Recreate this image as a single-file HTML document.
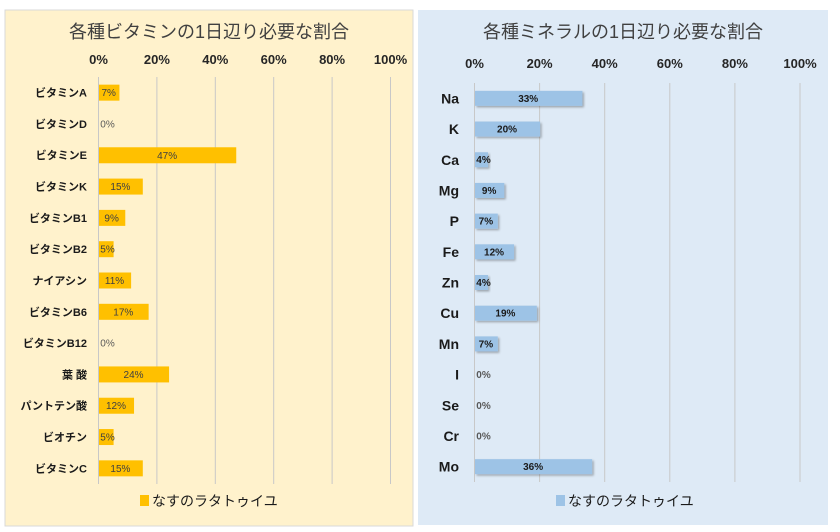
<!DOCTYPE html>
<html><head><meta charset="utf-8"><style>
body{margin:0;width:840px;height:532px;background:#fff;overflow:hidden;font-family:"Liberation Sans","Noto Sans CJK JP",sans-serif}
svg{position:absolute;left:0;top:0}
</style></head><body>
<svg width="840" height="532">
<defs><filter id="sh" x="-10%" y="-20%" width="130%" height="160%"><feDropShadow dx="1.5" dy="1.5" stdDeviation="1" flood-color="#000" flood-opacity="0.3"/></filter></defs>
<rect x="5" y="10" width="408" height="516" fill="#FFF2CC" stroke="#d9d9d9"/>
<rect x="418" y="10" width="410" height="515" fill="#DEEAF6"/>
<text x="209" y="38" text-anchor="middle" font-size="18" fill="#404040">各種ビタミンの1日辺り必要な割合</text>
<text x="623" y="38" text-anchor="middle" font-size="18" fill="#404040">各種ミネラルの1日辺り必要な割合</text>
<g id="g1"></g><g id="g2"></g>
</svg>
<script>
const vitCats=["ビタミンA","ビタミンD","ビタミンE","ビタミンK","ビタミンB1","ビタミンB2","ナイアシン","ビタミンB6","ビタミンB12","葉 酸","パントテン酸","ビオチン","ビタミンC"];
const vitVals=[7,0,47,15,9,5,11,17,0,24,12,5,15];
const minCats=["Na","K","Ca","Mg","P","Fe","Zn","Cu","Mn","I","Se","Cr","Mo"];
const minVals=[33,20,4,9,7,12,4,19,7,0,0,0,36];
const ticks=[0,20,40,60,80,100];
const NS="http://www.w3.org/2000/svg";
function mk(p,t,a,txt){const e=document.createElementNS(NS,t);for(const k in a)e.setAttribute(k,a[k]);if(txt!==undefined)e.textContent=txt;p.appendChild(e);return e;}
function draw(g,cats,vals,o){
  const x=v=>o.x0+v/100*o.w;
  const band=(o.y1-o.y0)/cats.length;
  const y=i=>o.y0+band*(i+0.5);
  ticks.forEach(t=>{
    const l=mk(g,'line',{x1:x(t),x2:x(t),y1:o.y0,y2:o.y1,stroke:'#c8c8c8','stroke-width':1});
    
    
    const tx=mk(g,'text',{x:x(t),y:o.tickY,'text-anchor':'middle','font-size':13,'font-weight':'bold',fill:'#262626'},t+'%');
    
    
  });
  cats.forEach((c,i)=>{
    const lb=mk(g,'text',{x:o.labX,y:y(i)+o.labFs*0.36,'text-anchor':'end','font-size':o.labFs,'font-weight':'bold',fill:'#1a1a1a'},c);
    
    
    const v=vals[i];
    const r=mk(g,'rect',{x:x(0)+0.5,y:y(i)-o.bh/2,width:Math.max(0,x(v)-x(0)),height:o.bh,fill:o.color});
    if(o.shadow)r.setAttribute('filter','url(#sh)');
    
    
    const lx=v===0?x(0)+9:Math.max((x(0)+x(v))/2,x(0)+9);
    const dl=mk(g,'text',{x:lx,y:y(i)+3.5,'text-anchor':'middle','font-size':10,'font-weight':o.dlw,fill:v===0?'#595959':o.dlc},v+'%');
    
    
  });
  const lr=mk(g,'rect',{x:o.legX,y:o.legY-10,width:9,height:11,fill:o.color});
  
  
  const lt=mk(g,'text',{x:o.legX+12,y:o.legY+1,'font-size':14,fill:'#1a1a1a'},'なすのラタトゥイユ');
  
  
}
draw(document.getElementById('g1'),vitCats,vitVals,{x0:98.5,w:292,y0:77,y1:484,tickY:64,labX:87,labFs:11,bh:16,color:'#FFC000',dlw:'normal',dlc:'#404040',legX:140,legY:505,shadow:false});
draw(document.getElementById('g2'),minCats,minVals,{x0:474.5,w:325.5,y0:83,y1:482,tickY:68,labX:459,labFs:14,bh:15,color:'#9DC3E6',dlw:'bold',dlc:'#1a1a1a',legX:556,legY:505,shadow:true});
</script>
</body></html>
